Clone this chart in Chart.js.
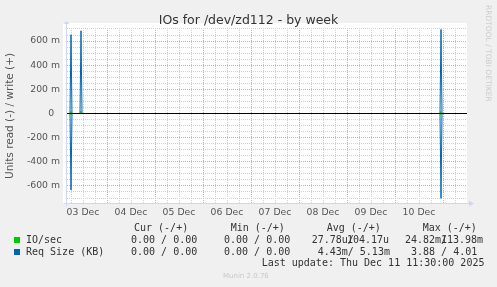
<!DOCTYPE html>
<html>
<head>
<meta charset="utf-8">
<script src="https://cdn.jsdelivr.net/npm/chart.js@4.4.1/dist/chart.umd.min.js"></script>
<style>
  html, body { margin: 0; padding: 0; background: #f0f0f0; }
  #wrap { position: relative; width: 497px; height: 287px; overflow: hidden; }
  #wrap canvas { position: absolute; left: 0; top: 0; }
  .t { position: absolute; white-space: pre; }
  .title { left: 0; width: 497px; text-align: center; top: 12px; font: 12.5px/15px "DejaVu Sans"; color: #333; }
  .mono { font: 10px/12px "DejaVu Sans Mono"; color: #333; }
  .brand { font: 7.5px/8px "DejaVu Sans"; color: #cccccc; writing-mode: vertical-rl; left: 484px; top: 5px; }
  .munin { font: 7px/8px "DejaVu Sans"; color: #c8c8c8; left: 223px; top: 272px; }
  .sw { position: absolute; width: 6px; height: 6px; left: 14px; }
</style>
</head>
<body>
<div id="wrap">
  <canvas id="chart" width="497" height="287"></canvas>
  <div class="t title">IOs for /dev/zd112 - by week</div>
  <div class="t brand">RRDTOOL / TOBI OETIKER</div>
  <div id="legend"></div>
  <div class="t munin">Munin 2.0.76</div>
</div>
<script>
// --- Data (hours since 03 Dec 00:00, values in units) ---
const hours    = [4, 5.5, 6, 6.5, 10.5, 11, 11.5, 190.5, 191, 191.5, 204];
const reqWrite = [0, 0, 0.652, 0, 0, 0.685, 0, 0, 0.696, 0, 0];
const reqRead  = [0, 0, -0.633, 0, 0, 0, 0, 0, -0.703, 0, 0];
const ioWrite  = [0, 0, 0.018, 0, 0, 0.02, 0, 0, 0.018, 0, 0];
const ioRead   = [0, 0, -0.008, 0, 0, 0, 0, 0, -0.008, 0, 0];

const dayLabels = ['03 Dec', '04 Dec', '05 Dec', '06 Dec', '07 Dec', '08 Dec', '09 Dec', '10 Dec'];
const xRange = [4, 204];
const yRange = [-0.7494, 0.708];

// legend table rows
const legendHeader = [['Cur (-/+)', 134], ['Min (-/+)', 230.7], ['Avg (-/+)', 326.7], ['Max (-/+)', 422.7]];
const legendRows = [
  { name: 'IO/sec', color: '#00cc00', cells: [['0.00 / 0.00', 131], ['0.00 / 0.00', 224], ['27.78u/', 311.7], ['104.17u', 347], ['24.82m/', 405], ['113.98m', 441]] },
  { name: 'Req Size (KB)', color: '#0066b3', cells: [['0.00 / 0.00', 131], ['0.00 / 0.00', 224], ['4.43m/ 5.13m', 317.7], ['3.88 / 4.01', 411]] }
];
const lastUpdate = 'Last update: Thu Dec 11 11:30:00 2025';

const toPoints = (vals) => vals.map((v, i) => ({ x: hours[i], y: v }));

function buildLegend() {
  const box = document.getElementById('legend');
  let html = '';
  const top0 = 222;
  legendHeader.forEach(([txt, x]) => {
    html += `<div class="t mono" style="left:${x}px;top:${top0}px">${txt}</div>`;
  });
  legendRows.forEach((row, r) => {
    const top = top0 + 11.8 * (r + 1);
    html += `<div class="sw" style="top:${top + 3}px;background:${row.color}"></div>`;
    html += `<div class="t mono" style="left:26px;top:${top}px">${row.name}</div>`;
    row.cells.forEach(([txt, x]) => {
      html += `<div class="t mono" style="left:${x}px;top:${top}px">${txt}</div>`;
    });
  });
  html += `<div class="t mono" style="left:261.7px;top:${top0 + 11.8 * 3}px">${lastUpdate}</div>`;
  box.innerHTML = html;
}

// white plot background + rrdtool style arrows
const frame = {
  id: 'frame',
  beforeDraw(chart) {
    const { ctx, chartArea: a } = chart;
    ctx.save();
    ctx.fillStyle = '#ffffff';
    ctx.fillRect(a.left - 4, a.top - 5, a.right - a.left + 4, a.bottom - a.top + 5);
    ctx.restore();
  },
  afterDraw(chart) {
    const { ctx, chartArea: a } = chart;
    const x0 = Math.round(a.left) - 0.5, y0 = Math.round(a.bottom) - 0.5;
    ctx.save();
    ctx.strokeStyle = '#cfd6f8';
    ctx.fillStyle = '#cfd6f8';
    ctx.lineWidth = 1;
    ctx.beginPath();
    ctx.moveTo(x0, y0 + 3); ctx.lineTo(x0, a.top - 5);
    ctx.moveTo(x0 - 3, y0); ctx.lineTo(a.right + 3, y0);
    ctx.stroke();
    ctx.beginPath();
    ctx.moveTo(x0 - 3, a.top - 4); ctx.lineTo(x0 + 3, a.top - 4); ctx.lineTo(x0, a.top - 7); ctx.closePath();
    ctx.fill();
    ctx.beginPath();
    ctx.moveTo(a.right + 2, y0 - 3); ctx.lineTo(a.right + 2, y0 + 3); ctx.lineTo(a.right + 7, y0); ctx.closePath();
    ctx.fill();
    ctx.restore();
  }
};

const isMajorX = (v) => v % 24 === 0;
const isMajorY = (v) => Math.round(v * 100) % 20 === 0;
const tickFont = { family: 'DejaVu Sans', size: 9.3 };

new Chart(document.getElementById('chart'), {
  type: 'line',
  data: {
    datasets: [
      // zero rule sits on top, like rrdtool's axis line
      { label: 'zero', data: [{ x: xRange[0], y: 0 }, { x: xRange[1], y: 0 }], borderColor: '#000000', borderWidth: 1, order: 0 },
      { label: 'Req Size read', data: toPoints(reqRead), borderColor: '#0066b3', borderWidth: 1, order: 3 },
      { label: 'Req Size write', data: toPoints(reqWrite), borderColor: '#0066b3', borderWidth: 1, order: 3 },
      { label: 'IO/sec read', data: toPoints(ioRead), borderColor: '#00cc00', borderWidth: 1, order: 1 },
      { label: 'IO/sec write', data: toPoints(ioWrite), borderColor: '#00cc00', borderWidth: 1, order: 1 }
    ]
  },
  options: {
    responsive: false,
    animation: false,
    events: [],
    elements: { point: { radius: 0 }, line: { tension: 0 } },
    layout: { padding: { top: 28, right: 30, left: 0, bottom: 0 } },
    plugins: { legend: { display: false }, tooltip: { enabled: false } },
    scales: {
      x: {
        type: 'linear',
        min: xRange[0],
        max: xRange[1],
        afterFit: (s) => { s.height = 83; },
        afterBuildTicks: (s) => {
          const t = [];
          for (let h = 6; h < xRange[1]; h += 6) t.push({ value: h });
          s.ticks = t;
        },
        ticks: {
          autoSkip: false,
          maxRotation: 0,
          padding: 3,
          color: '#555',
          font: tickFont,
          callback: (v) => (v % 24 === 12 ? dayLabels[(v - 12) / 24] : '')
        },
        grid: {
          drawTicks: false,
          lineWidth: 1,
          color: (c) => (isMajorX(c.tick.value) ? '#e8a0a0' : '#d0d0d0')
        },
        border: { display: false, dash: [1, 1] }
      },
      y: {
        min: yRange[0],
        max: yRange[1],
        afterFit: (s) => { s.width = 67; },
        afterBuildTicks: (s) => {
          const t = [];
          for (let k = -15; k <= 14; k++) t.push({ value: k * 0.05 });
          s.ticks = t.filter((o) => o.value >= yRange[0] && o.value <= yRange[1]);
        },
        ticks: {
          autoSkip: false,
          padding: 7,
          color: '#555',
          font: tickFont,
          callback: (v) => {
            const m = Math.round(v * 1000);
            if (m === 0) return '0  ';
            return m % 200 === 0 ? m + ' m' : '';
          }
        },
        grid: {
          drawTicks: false,
          lineWidth: 1,
          color: (c) => {
            const v = c.tick.value;
            if (Math.abs(v) < 1e-9) return 'rgba(0,0,0,0)';
            return isMajorY(v) ? '#e8a0a0' : '#d0d0d0';
          }
        },
        border: { display: false, dash: [1, 1] },
        title: {
          display: true,
          text: 'Units read (-) / write (+)',
          color: '#555',
          font: { family: 'DejaVu Sans', size: 10.5 },
          padding: { top: 4, bottom: 4 }
        }
      }
    }
  },
  plugins: [frame]
});

buildLegend();
</script>
</body>
</html>
